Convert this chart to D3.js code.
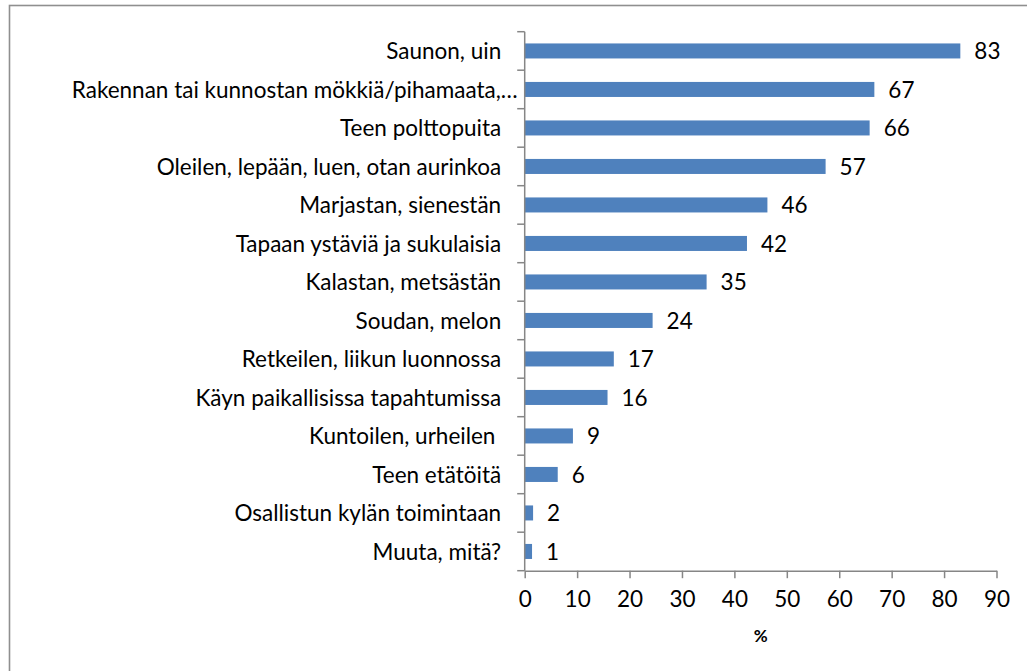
<!DOCTYPE html>
<html><head><meta charset="utf-8">
<script src="https://cdn.jsdelivr.net/npm/d3@7"></script>
<style>
html,body{margin:0;padding:0;background:#fff;}
svg{display:block;}
text{font-family:Lato,"Open Sans",sans-serif;fill:#000;}
text.cat{white-space:pre;}
</style></head>
<body>
<script>
const categories = [
  "Saunon, uin",
  "Rakennan tai kunnostan mökkiä/pihamaata,…",
  "Teen polttopuita",
  "Oleilen, lepään, luen, otan aurinkoa",
  "Marjastan, sienestän",
  "Tapaan ystäviä ja sukulaisia",
  "Kalastan, metsästän",
  "Soudan, melon",
  "Retkeilen, liikun luonnossa",
  "Käyn paikallisissa tapahtumissa",
  "Kuntoilen, urheilen ",
  "Teen etätöitä",
  "Osallistun kylän toimintaan",
  "Muuta, mitä?"
];
const values = [83.1, 66.7, 65.8, 57.4, 46.3, 42.4, 34.7, 24.4, 17.0, 15.8, 9.2, 6.3, 1.6, 1.4];
const xTicks = [0, 10, 20, 30, 40, 50, 60, 70, 80, 90];
const xTitle = "%";

const W = 1027, H = 671;
const svg = d3.select("body").append("svg").attr("width", W).attr("height", H);

svg.append("rect").attr("x", 9.5).attr("y", 5.5).attr("width", W + 20).attr("height", H + 20)
  .attr("fill", "none").attr("stroke", "#8f8f8f").attr("stroke-width", 1.6);

const pLeft = 524.7, pRight = 996.5, pTop = 31.7, pBottom = 570.7;
const x = d3.scaleLinear().domain([0, 90]).range([pLeft, pRight]);
const y = d3.scaleBand().domain(categories).range([pTop, pBottom]).paddingInner(0.61).paddingOuter(0.305);

const axisColor = "#868686";
const fs = 22.5;

// bars
svg.append("g").selectAll("rect").data(values).join("rect")
  .attr("x", x(0))
  .attr("y", (d, i) => y(categories[i]))
  .attr("width", d => x(d) - x(0))
  .attr("height", y.bandwidth())
  .attr("fill", "#4F81BD");

// value labels
svg.append("g").selectAll("text").data(values).join("text")
  .attr("x", d => x(d) + 14)
  .attr("y", (d, i) => y(categories[i]) + y.bandwidth() / 2)
  .attr("dy", "0.36em")
  .style("font-size", fs + "px")
  .text(d => d3.format(".0f")(d));

// y axis line and ticks at band boundaries
const gy = svg.append("g");
gy.append("line").attr("x1", pLeft).attr("x2", pLeft).attr("y1", pTop).attr("y2", pBottom)
  .attr("stroke", axisColor).attr("stroke-width", 1.5);
d3.range(categories.length + 1).forEach(i => {
  const yy = pTop + i * y.step();
  gy.append("line").attr("x1", pLeft - 7.5).attr("x2", pLeft).attr("y1", yy).attr("y2", yy)
    .attr("stroke", axisColor).attr("stroke-width", 1.5);
});
gy.selectAll("text.cat").data(categories).join("text").attr("class", "cat")
  .attr("x", d => d.endsWith("…") ? pLeft - 7 : pLeft - 23.5)
  .attr("y", d => y(d) + y.bandwidth() / 2)
  .attr("dy", "0.36em")
  .attr("text-anchor", "end")
  .style("font-size", fs + "px")
  .text(d => d);

// x axis
const xAxis = d3.axisBottom(x).tickValues(xTicks).tickSize(7.5).tickSizeOuter(0).tickPadding(13);
const gx = svg.append("g").attr("transform", `translate(0,${pBottom})`).call(xAxis);
gx.select(".domain").attr("stroke", axisColor).attr("stroke-width", 1.5);
gx.selectAll(".tick line").attr("stroke", axisColor).attr("stroke-width", 1.5);
gx.selectAll(".tick text").style("font-size", fs + "px").attr("font-family", null).attr("fill", "#000");

svg.append("text").attr("x", (pLeft + pRight) / 2).attr("y", 642)
  .attr("text-anchor", "middle").style("font-size", "17px").style("font-weight", "bold")
  .text(xTitle);
</script>
</body></html>
